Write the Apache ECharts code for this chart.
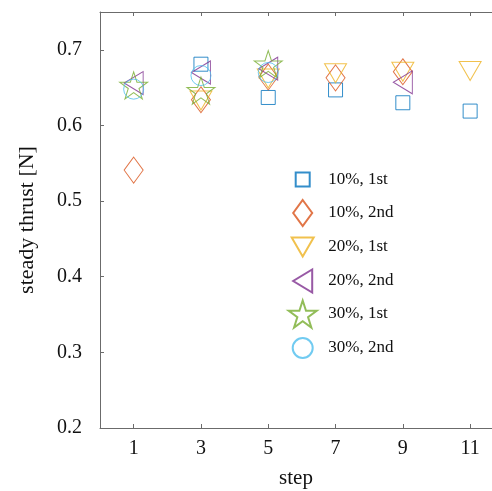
<!DOCTYPE html>
<html>
<head>
<meta charset="utf-8">
<script src="https://cdn.jsdelivr.net/npm/echarts@6/dist/echarts.min.js"></script>
<style>
  html, body { margin: 0; padding: 0; background: #fff; }
  #main { width: 492px; height: 491px; }
</style>
</head>
<body>
<div id="main"></div>
<script>
// data
var steps = [1, 3, 5, 7, 9, 11];
var yTicks = [0.2, 0.3, 0.4, 0.5, 0.6, 0.7];
var names = ['10%, 1st', '10%, 2nd', '20%, 1st', '20%, 2nd', '30%, 1st', '30%, 2nd'];
var s10first  = [null, 0.681, 0.637, 0.647, 0.630, 0.619];
var s10second = [0.541, 0.634, 0.664, 0.663, 0.671, null];
var s20first  = [null, 0.633, 0.662, 0.669, 0.671, 0.672];
var s20second = [0.656, 0.670, 0.675, null, 0.657, null];
var s30first  = [0.653, 0.646, 0.681, null, null, null];
var s30second = [0.648, 0.666, 0.670, null, null, null];

var colores = ['#0072BD', '#D95319', '#EDB120', '#7E2F8E', '#77AC30', '#4DBEEE'];
var starPath = 'path://M50,0 L61.8,36.2 L100,36.2 L69.1,58.6 L80.9,95.1 L50,72.7 L19.1,95.1 L30.9,58.6 L0,36.2 L38.2,36.2 Z';
var trianguloAbajo = 'path://M0,0 L100,0 L50,100 Z';
var trianguloIzq = 'path://M100,0 L100,100 L0,50 Z';
var marcas = [
     { symbol: 'rect', size: [14, 14] },
     { symbol: 'diamond', size: [19, 26] },
     { symbol: trianguloAbajo, size: [22, 19] },
     { symbol: trianguloIzq, size: [19, 23] },
     { symbol: starPath, size: [28, 27] },
     { symbol: 'circle', size: [20, 20] }
];
var valores = [s10first, s10second, s20first, s20second, s30first, s30second];

var fuente = 'Liberation Serif';

function armaPuntos(vals) {
     var puntos = [];
     for (var i = 0; i < steps.length; i++) {
          if (vals[i] !== null) puntos.push([steps[i], vals[i]]);
     }
     return puntos;
}

var series = [];
var legends = [];
var centrosLeyenda = [178, 212, 246, 280, 313, 347];
for (var k = 0; k < names.length; k++) {
     var m = marcas[k];
     series.push({
          name: names[k],
          type: 'scatter',
          symbol: m.symbol,
          symbolSize: m.size,
          symbolKeepAspect: false,
          itemStyle: {
               color: 'rgba(0,0,0,0)',
               borderColor: colores[k],
               borderWidth: 1
          },
          emphasis: { disabled: true },
          data: armaPuntos(valores[k])
     });
     var w = m.size[0], h = m.size[1];
     legends.push({
          data: [{ name: names[k], icon: m.symbol }],
          orient: 'vertical',
          left: 301.7 - w / 2,
          top: centrosLeyenda[k] - h / 2,
          padding: 0,
          itemWidth: w,
          itemHeight: h,
          symbolKeepAspect: false,
          selectedMode: false,
          textStyle: {
               fontFamily: fuente,
               fontSize: 17,
               color: '#111',
               padding: [0, 0, 0, 20.6 - w / 2]
          }
     });
}

var colorEje = '#6b6b6b';
var chart = echarts.init(document.getElementById('main'), null, { renderer: 'canvas' });
chart.setOption({
     animation: false,
     grid: { left: 100, top: 12, right: 0, bottom: 63, outerBoundsMode: 'none', containLabel: false },
     legend: legends,
     xAxis: [{
          type: 'value',
          min: 0,
          max: 11.65,
          position: 'bottom',
          name: 'step',
          nameLocation: 'middle',
          nameGap: 40,
          nameTextStyle: { fontFamily: fuente, fontSize: 21, color: '#111' },
          axisLine: { show: true, onZero: false, lineStyle: { color: colorEje, width: 1 } },
          axisTick: { show: true, inside: true, length: 4, customValues: steps, lineStyle: { color: colorEje } },
          axisLabel: { show: true, margin: 11, customValues: steps, fontFamily: fuente, fontSize: 20, color: '#111' },
          splitLine: { show: false }
     }, {
          type: 'value',
          min: 0,
          max: 11.65,
          position: 'top',
          axisLine: { show: true, onZero: false, lineStyle: { color: colorEje, width: 1 } },
          axisTick: { show: true, inside: true, length: 4, customValues: steps, lineStyle: { color: colorEje } },
          axisLabel: { show: false },
          splitLine: { show: false }
     }],
     yAxis: [{
          type: 'value',
          min: 0.2,
          max: 0.75,
          name: 'steady thrust [N]',
          nameLocation: 'middle',
          nameGap: 62,
          nameTextStyle: { fontFamily: fuente, fontSize: 22, color: '#111' },
          axisLine: { show: true, onZero: false, lineStyle: { color: colorEje, width: 1 } },
          axisTick: { show: true, inside: true, length: 4, customValues: yTicks, lineStyle: { color: colorEje } },
          axisLabel: {
               show: true,
               margin: 18,
               padding: [0, 0, 8, 0],
               customValues: yTicks,
               fontFamily: fuente,
               fontSize: 20,
               color: '#111',
               formatter: function (v) { return v.toFixed(1); }
          },
          splitLine: { show: false }
     }],
     series: series
});
</script>
</body>
</html>
